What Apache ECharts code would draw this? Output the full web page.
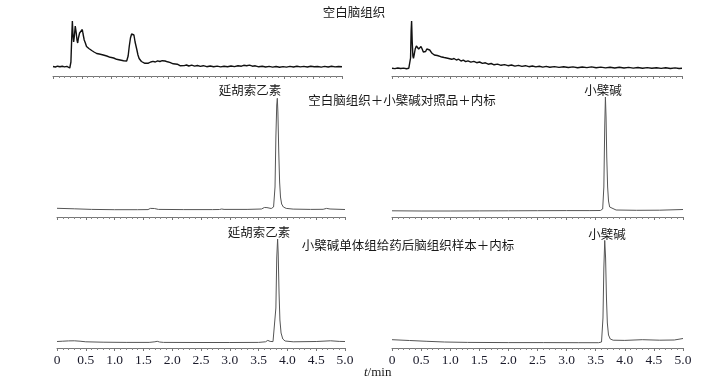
<!DOCTYPE html>
<html><head><meta charset="utf-8">
<script src="https://cdn.jsdelivr.net/npm/echarts@6/dist/echarts.min.js"></script>
<style>html,body{margin:0;padding:0;background:#fff}#c{width:716px;height:382px}</style>
</head><body><div id="c"></div>
<script>
// x tick labels (min)
const xTicks = ['0','0.5','1.0','1.5','2.0','2.5','3.0','3.5','4.0','4.5','5.0'];
const titles = ['空白脑组织','空白脑组织＋小檗碱对照品＋内标','小檗碱单体组给药后脑组织样本＋内标'];
const peakIS = '延胡索乙素';
const peakBBR = '小檗碱';

// [time (min), response] — top row: blank brain tissue
const blankIS = [[0,9.5],[0.04,9.0],[0.08,9.8],[0.12,9.2],[0.16,9.7],[0.2,9.1],[0.24,9.6],[0.27,8.8],[0.29,8.0],[0.30,8.6],[0.31,14],[0.325,40],[0.335,55],[0.345,42],[0.357,34],[0.37,40],[0.385,50],[0.392,51],[0.40,44],[0.415,36],[0.427,33],[0.44,38],[0.46,43],[0.48,45],[0.507,46.5],[0.52,42],[0.54,36],[0.56,33],[0.58,29.5],[0.60,30.5],[0.62,27.5],[0.64,28.2],[0.67,25.5],[0.69,26.4],[0.71,24],[0.73,24.8],[0.756,22.5],[0.78,23.5],[0.80,22],[0.83,22.6],[0.87,21],[0.90,21.8],[0.93,20],[0.96,20.8],[0.99,18.7],[1.02,19.5],[1.05,18],[1.08,18.6],[1.10,16.7],[1.13,17.5],[1.16,16],[1.19,16.8],[1.22,15.3],[1.25,16.0],[1.275,15.0],[1.29,16],[1.30,20],[1.32,30],[1.34,38],[1.36,42],[1.379,43.7],[1.40,41],[1.42,34],[1.448,27],[1.47,21],[1.49,17.5],[1.505,16],[1.53,14.5],[1.56,13],[1.59,12.7],[1.62,13.5],[1.65,12.8],[1.69,14],[1.73,14.6],[1.77,14],[1.81,15.2],[1.85,14.5],[1.89,15.3],[1.94,15],[1.98,14.2],[2.02,13.6],[2.05,12.5],[2.08,12.2],[2.11,11.3],[2.15,11.8],[2.197,10.3],[2.23,11.2],[2.27,10.4],[2.31,11.0],[2.35,10.0],[2.40,10.8],[2.45,9.9],[2.50,10.5],[2.55,9.6],[2.60,10.3],[2.66,9.3],[2.72,10.0],[2.78,9.2],[2.84,9.9],[2.90,9.1],[2.96,9.8],[3.02,9.3],[3.08,10.0],[3.14,9.4],[3.20,10.3],[3.26,9.8],[3.30,10.7],[3.35,10.3],[3.40,10.9],[3.45,9.8],[3.50,10.2],[3.56,9.2],[3.62,9.8],[3.68,9.0],[3.74,9.6],[3.80,8.9],[3.86,9.5],[3.92,8.8],[3.98,9.4],[4.04,8.9],[4.10,9.6],[4.16,9.0],[4.22,9.7],[4.28,9.1],[4.34,9.6],[4.40,9.0],[4.46,9.7],[4.52,9.2],[4.58,9.5],[4.64,8.9],[4.70,9.6],[4.76,9.0],[4.82,9.7],[4.88,9.1],[4.94,9.5],[5.0,9.2]];
const blankBBR = [[0,7.7],[0.05,7.4],[0.1,8.0],[0.15,7.5],[0.2,7.9],[0.25,7.3],[0.29,7.8],[0.31,8],[0.32,18],[0.33,45],[0.338,55],[0.348,35],[0.36,20],[0.37,17.7],[0.385,22],[0.40,27],[0.42,30],[0.44,31],[0.46,27],[0.48,26],[0.50,29.5],[0.52,27],[0.54,24],[0.56,22.7],[0.58,24.5],[0.60,27],[0.63,28.5],[0.65,26],[0.67,25],[0.69,22.7],[0.71,23.5],[0.73,21],[0.75,22.2],[0.78,20.5],[0.81,21.5],[0.84,19.3],[0.87,20.3],[0.90,18.5],[0.93,19.8],[0.96,17.8],[0.99,18.7],[1.03,16.7],[1.07,17.5],[1.11,16.0],[1.15,16.8],[1.19,15.0],[1.23,15.8],[1.27,14.3],[1.31,15.1],[1.36,13.8],[1.41,14.6],[1.46,13.3],[1.51,14.0],[1.56,12.6],[1.61,13.2],[1.66,11.8],[1.71,12.5],[1.76,11.2],[1.82,11.9],[1.88,10.7],[1.94,11.4],[2.0,10.3],[2.06,11.0],[2.12,9.9],[2.18,10.6],[2.24,9.6],[2.30,10.3],[2.36,9.3],[2.42,10.0],[2.48,9.1],[2.54,9.8],[2.60,8.9],[2.66,9.6],[2.72,8.8],[2.80,9.4],[2.88,8.6],[2.96,9.2],[3.04,8.5],[3.12,9.1],[3.20,8.3],[3.28,9.0],[3.36,8.4],[3.44,9.1],[3.52,8.3],[3.60,8.9],[3.68,8.1],[3.76,8.8],[3.84,8.0],[3.92,8.7],[4.00,8.0],[4.08,8.6],[4.16,7.9],[4.24,8.5],[4.32,7.8],[4.40,8.4],[4.48,7.7],[4.56,8.3],[4.64,7.6],[4.72,8.2],[4.80,7.5],[4.88,8.1],[4.95,7.5],[5.0,7.8]];

// middle row: blank + berberine reference + internal standard
const refIS = [[0,8.7],[0.3,8.2],[0.6,7.6],[1.0,7.3],[1.4,7.3],[1.58,7.4],[1.62,8.6],[1.65,9.4],[1.69,8.5],[1.72,8.2],[1.76,7.6],[2.2,7.4],[2.7,7.4],[2.82,7.5],[2.86,8.0],[2.9,7.6],[3.3,7.6],[3.55,8.0],[3.60,9.5],[3.62,11],[3.645,9.4],[3.67,8.2],[3.72,8.5],[3.76,10],[3.785,30],[3.80,80],[3.815,112],[3.825,118.7],[3.835,105],[3.85,65],[3.865,35],[3.88,20],[3.90,13],[3.93,10],[3.98,8.6],[4.1,7.9],[4.4,7.6],[4.62,7.7],[4.68,8.6],[4.74,8.0],[5.0,7.5]];
const refBBR = [[0,6.2],[0.5,6.0],[1.0,6.0],[1.5,6.1],[2.0,6.2],[2.5,6.3],[3.0,6.4],[3.4,6.4],[3.58,6.5],[3.62,8],[3.64,30],[3.655,90],[3.667,120],[3.678,100],[3.69,60],[3.705,30],[3.72,16],[3.74,10],[3.77,8],[3.85,7],[4.2,6.7],[4.6,6.8],[5.0,7.5]];

// bottom row: brain tissue after berberine dosing + internal standard
const sampleIS = [[0,6.5],[0.1,6.8],[0.2,7.1],[0.3,7.2],[0.4,6.8],[0.5,6.2],[0.8,5.8],[1.2,5.6],[1.6,5.6],[1.70,6.2],[1.74,6.7],[1.78,6.0],[1.85,5.6],[2.5,5.5],[3.0,5.5],[3.5,5.6],[3.62,6.2],[3.66,7.6],[3.70,6.6],[3.75,6.4],[3.78,8],[3.80,40],[3.815,90],[3.83,109],[3.84,95],[3.855,55],[3.87,28],[3.89,15],[3.92,9],[3.96,7],[4.1,6.2],[4.5,6.5],[4.75,7.2],[4.9,6.6],[5.0,6.5]];
const sampleBBR = [[0,8.3],[0.3,7.5],[0.6,6.7],[0.9,6.0],[1.3,5.6],[2.0,5.4],[2.6,5.4],[3.2,5.3],[3.55,5.3],[3.60,6],[3.625,30],[3.64,80],[3.655,107.6],[3.67,90],[3.685,50],[3.70,25],[3.72,13],[3.75,9],[3.80,7.8],[4.0,7.6],[4.3,8.3],[4.6,7.8],[4.85,8.0],[5.0,9.5]];

const serif = "'Liberation Serif','Times New Roman','Noto Sans CJK SC',serif";
const cjk = "'Noto Sans CJK SC','Liberation Serif',serif";

const grids = [
  {left:53, top:16, width:289, height:60},
  {left:392, top:16, width:290, height:60},
  {left:57, top:92, width:288, height:125},
  {left:392, top:92, width:291, height:125},
  {left:57, top:234, width:288, height:114},
  {left:392, top:234, width:291, height:114}
];
const seriesData = [blankIS, blankBBR, refIS, refBBR, sampleIS, sampleBBR];

const xAxes = grids.map((g,i)=>({
  type:'value', gridIndex:i, min:0, max:5, interval:0.5,
  axisLine:{show:true, lineStyle:{color:'#777', width:1}},
  axisTick:{show:true, length:3, lineStyle:{color:'#777'}},
  minorTick:{show:true, splitNumber:5, length:2, lineStyle:{color:'#888'}},
  splitLine:{show:false}, minorSplitLine:{show:false},
  axisLabel:{show:i>=4, margin:6, fontSize:13.5, fontFamily:serif, color:'#1a1a2a',
    formatter:(v)=>xTicks[Math.round(v*2)]}
}));
const yAxes = grids.map((g,i)=>({type:'value', gridIndex:i, min:0, max:g.height, show:false}));
const series = seriesData.map((d,i)=>({
  type:'line', xAxisIndex:i, yAxisIndex:i, data:d, showSymbol:false, symbol:'none',
  lineStyle:{color: i<2 ? '#111' : '#555', width: i<2 ? 1.4 : 1}, silent:true
}));

function txt(x,y,text,size){
  return {type:'text', x:x, y:y, style:{text:text, fill:'#1a1a1a', font: size+'px '+cjk, align:'center', verticalAlign:'middle'}};
}
const graphic = [
  txt(354,12,titles[0],12.5),
  txt(402,100,titles[1],12.5),
  txt(408,245,titles[2],12.5),
  txt(250,90,peakIS,12.5),
  txt(259,232,peakIS,12.5),
  txt(603,90,peakBBR,12.5),
  txt(607,234,peakBBR,12.5),
  {type:'text', x:364, y:366, style:{text:'{i|t}/min', fill:'#1a1a1a', font:'13px '+serif,
    rich:{i:{fontStyle:'italic', fontSize:13, fontFamily:serif}}}}
];

const chart = echarts.init(document.getElementById('c'), null, {renderer:'canvas'});
chart.setOption({animation:false, grid:grids, xAxis:xAxes, yAxis:yAxes, series:series, graphic:graphic});
</script></body></html>
